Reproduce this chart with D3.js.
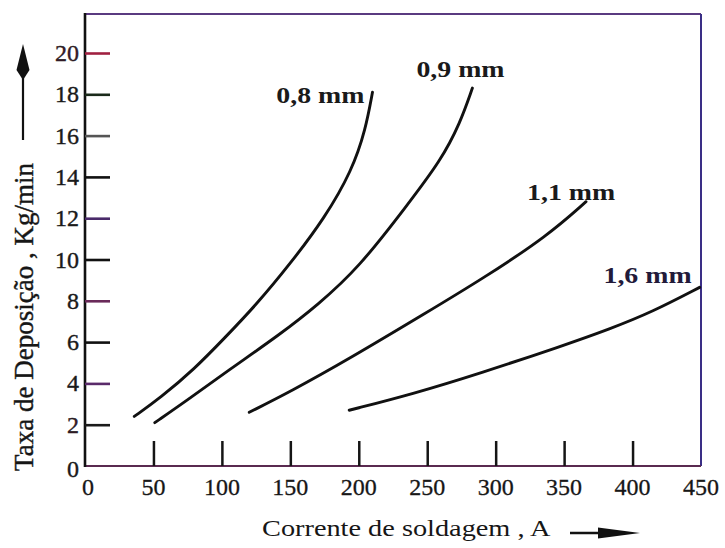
<!DOCTYPE html>
<html>
<head>
<meta charset="utf-8">
<script src="https://cdn.jsdelivr.net/npm/d3@7/dist/d3.min.js"></script>
<style>
  html, body { margin: 0; padding: 0; background: #fff; }
  svg { display: block; }
  text { font-family: "Liberation Serif", "Times New Roman", serif; fill: #161616; }
</style>
</head>
<body>
<svg id="chart" width="725" height="548"></svg>
<script>
// ---- data ----
const xTickValues = [0, 50, 100, 150, 200, 250, 300, 350, 400, 450];
const yTickValues = [0, 2, 4, 6, 8, 10, 12, 14, 16, 18, 20];
const seriesNames = ["0,8 mm", "0,9 mm", "1,1 mm", "1,6 mm"];

const current08 = [36, 55, 80, 102, 125, 150, 175, 195, 205, 210];
const rate08    = [2.4, 3.3, 4.7, 6.2, 7.8, 9.8, 12.0, 14.3, 16.3, 18.1];

const current09 = [51, 75, 104, 143, 170, 200, 235, 260, 274, 283];
const rate09    = [2.1, 3.2, 4.6, 6.4, 7.8, 9.6, 12.6, 14.8, 16.6, 18.3];

const current11 = [120, 150, 192, 250, 290, 338, 366];
const rate11    = [2.6, 3.6, 5.15, 7.45, 9.05, 11.15, 12.8];

const current16 = [193, 240, 289, 348, 384, 414, 449];
const rate16    = [2.7, 3.5, 4.5, 5.8, 6.65, 7.45, 8.65];

const xTitle = "Corrente de soldagem , A";
const yTitle = "Taxa de Deposição , Kg/min";

// ---- layout ----
const svg = d3.select("#chart");
const mLeft = 85, mRight = 701, mTop = 14, mBottom = 466;

const x = d3.scaleLinear().domain([0, 450]).range([mLeft, mRight]);
const y = d3.scaleLinear().domain([0, 20]).range([mBottom, mBottom - 20 * 20.65]);

// frame
svg.append("line").attr("x1", mLeft).attr("x2", mRight).attr("y1", mTop).attr("y2", mTop)
  .attr("stroke", "#5a3a80").attr("stroke-width", 2);
svg.append("line").attr("x1", mRight).attr("x2", mRight).attr("y1", mTop).attr("y2", mBottom)
  .attr("stroke", "#3a2e86").attr("stroke-width", 2);
svg.append("line").attr("x1", mLeft).attr("x2", mRight).attr("y1", mBottom).attr("y2", mBottom)
  .attr("stroke", "#5a2a50").attr("stroke-width", 2);
svg.append("line").attr("x1", mLeft).attr("x2", mLeft).attr("y1", mTop - 1).attr("y2", mBottom + 1)
  .attr("stroke", "#111").attr("stroke-width", 2.6);

// y axis (ticks inside)
const yTickColors = ["#111", "#1a1a1a", "#5a2a6a", "#111", "#6a2a5a", "#111", "#4a2a6a", "#111", "#555", "#1a2a1a", "#a02040"];
const yAxis = d3.axisRight(y).tickValues(yTickValues.filter(d => d > 0)).tickSize(25).tickFormat("");
const yg = svg.append("g").attr("transform", `translate(${mLeft},0)`).call(yAxis);
yg.select(".domain").remove();
yg.selectAll(".tick line").attr("stroke-width", 2.6)
  .attr("stroke", d => yTickColors[yTickValues.indexOf(d)]);

// y labels
svg.append("g").selectAll("text").data(yTickValues).join("text")
  .attr("x", mLeft - 6)
  .attr("y", d => y(d) + (d === 0 ? 3 : 0))
  .attr("text-anchor", "end")
  .attr("dominant-baseline", "central")
  .attr("font-size", 24)
  .attr("stroke", "#1a1a1a").attr("stroke-width", 0.4)
  .style("fill", d => (d === 20 || d === 2) ? "#3a1a2a" : "#1a1a1a")
  .text(d => d);

// x axis (ticks inside)
const xAxis = d3.axisTop(x).tickValues(xTickValues.filter(d => d > 0 && d < 450)).tickSize(25).tickFormat("");
const xg = svg.append("g").attr("transform", `translate(0,${mBottom})`).call(xAxis);
xg.select(".domain").remove();
xg.selectAll(".tick line").attr("stroke-width", 2.5).attr("stroke", "#151515");

// x labels
svg.append("g").selectAll("text").data(xTickValues).join("text")
  .attr("x", d => x(d) + (d === 0 ? 3 : 0))
  .attr("y", mBottom + 29)
  .attr("text-anchor", "middle")
  .attr("font-size", 24)
  .attr("stroke", "#1a1a1a").attr("stroke-width", 0.3)
  .text(d => d);

// curves
const line = d3.line().x(d => x(d[0])).y(d => y(d[1])).curve(d3.curveBasis);
const series = [
  [current08, rate08],
  [current09, rate09],
  [current11, rate11],
  [current16, rate16]
].map(([cx, ry]) => cx.map((v, i) => [v, ry[i]]));

svg.append("g").selectAll("path").data(series).join("path")
  .attr("d", line)
  .attr("fill", "none")
  .attr("stroke", "#111")
  .attr("stroke-width", 2.9)
  .attr("stroke-linecap", "round");

// curve labels, placed relative to curve end points
const labelOffsets = [[-8, 11, "end"], [-56, -11, "start"], [-59, -2, "start"], [-8, -4, "end"]];
series.forEach((s, i) => {
  const end = s[s.length - 1];
  const [dx, dy, anchor] = labelOffsets[i];
  svg.append("text")
    .attr("transform", `translate(${x(end[0]) + dx},${y(end[1]) + dy}) scale(1.16,1)`)
    .attr("text-anchor", anchor)
    .attr("font-size", 24)
    .attr("font-weight", "bold")
    .style("fill", i === 3 ? "#221a3a" : "#1a1a1a")
    .text(seriesNames[i]);
});

// x title + arrow
svg.append("text")
  .attr("transform", `translate(262,536) scale(1.18,1)`)
  .attr("font-size", 24)
  .text(xTitle);
svg.append("line").attr("x1", 570).attr("x2", 606).attr("y1", 533).attr("y2", 533)
  .attr("stroke", "#111").attr("stroke-width", 2.6);
svg.append("path").attr("d", "M598,527.5 L640,533 L598,538.5 Z").attr("fill", "#111");

// y title + arrow
svg.append("text")
  .attr("transform", `translate(33,317) rotate(-90)`)
  .attr("text-anchor", "middle")
  .attr("font-size", 27)
  .attr("stroke", "#161616").attr("stroke-width", 0.4)
  .text(yTitle);
svg.append("line").attr("x1", 23).attr("x2", 23).attr("y1", 140).attr("y2", 72)
  .attr("stroke", "#111").attr("stroke-width", 2.2);
svg.append("path").attr("d", "M23,44 L29.5,70 L23,80 L16.5,70 Z").attr("fill", "#111");
</script>
</body>
</html>
